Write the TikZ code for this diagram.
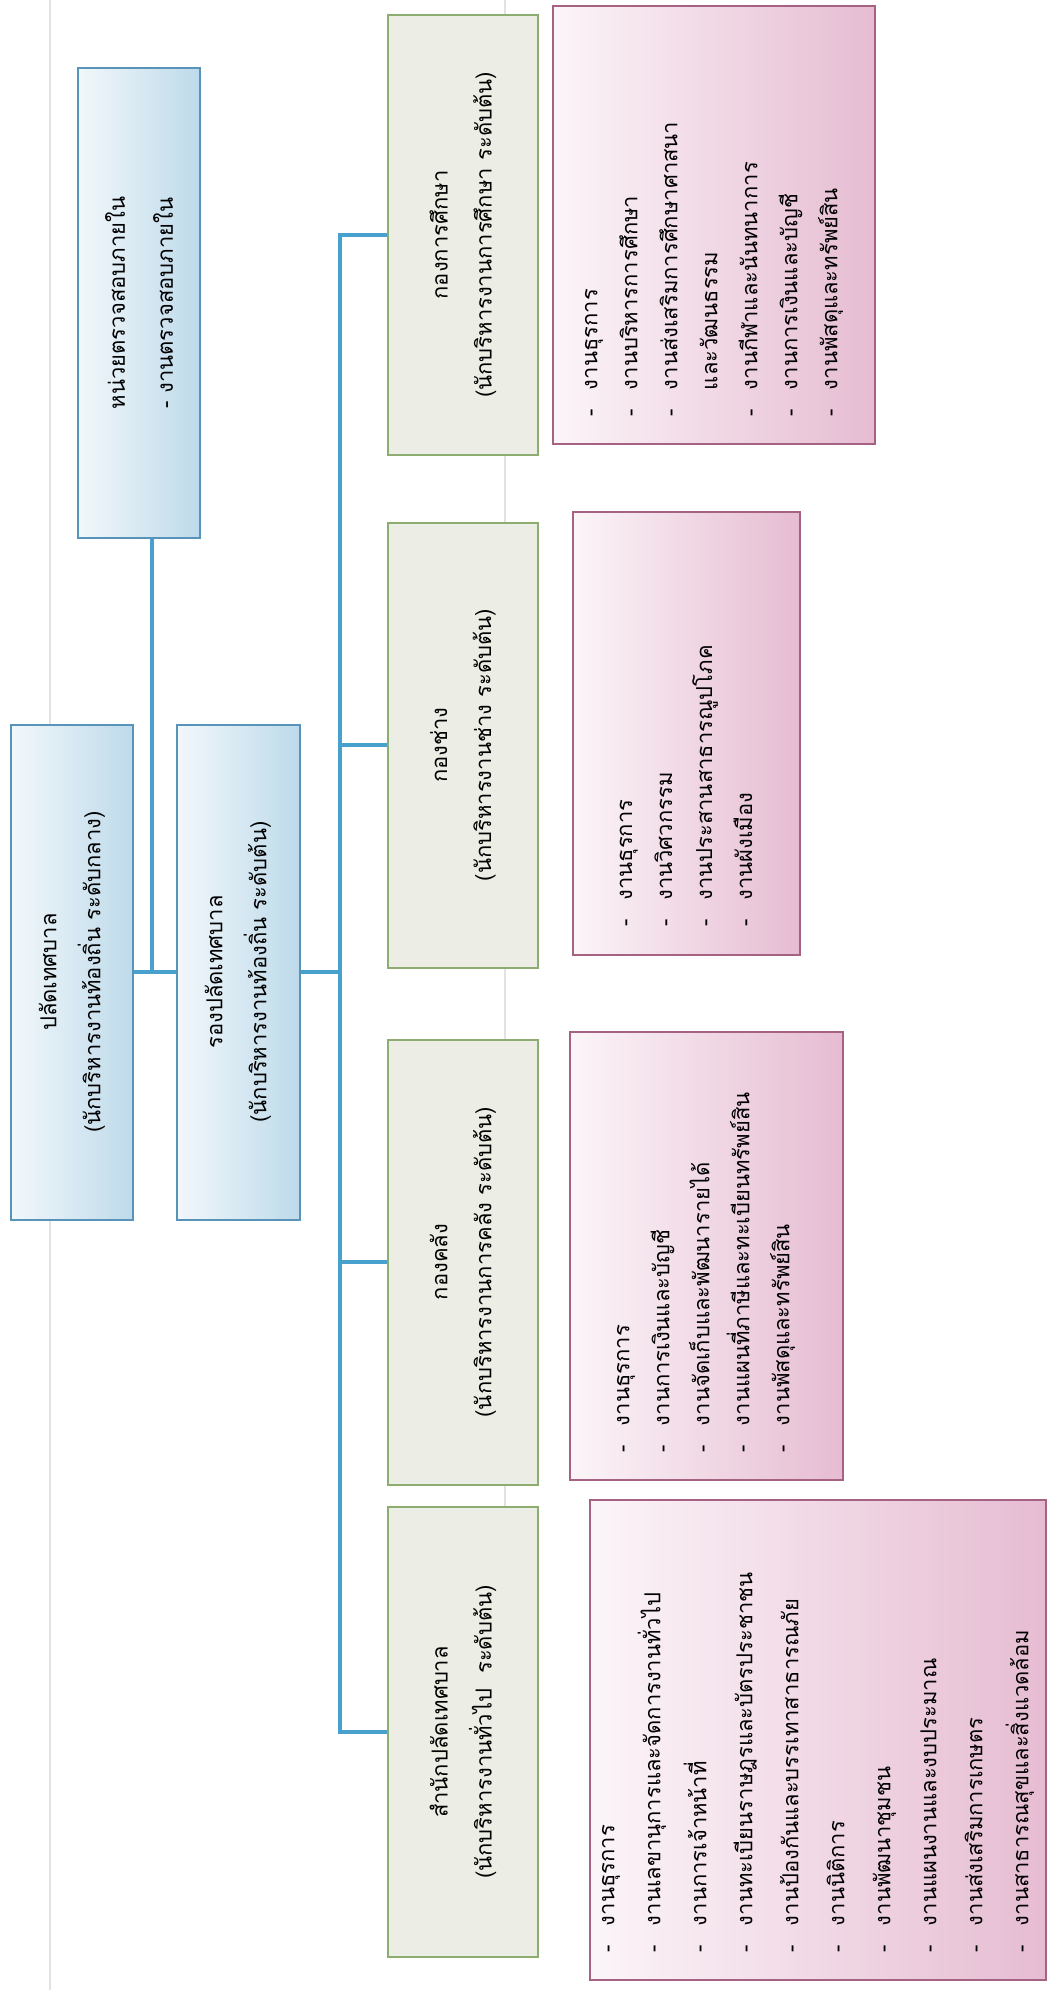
\documentclass[tikz,border=0pt]{standalone}
\usepackage{fontspec}
\newfontfamily\thaifont[Script=Thai]{Loma}
\usetikzlibrary{positioning,calc}

\definecolor{linkblue}{RGB}{72,160,205}
\definecolor{blueedge}{RGB}{88,148,185}
\definecolor{bluefill}{RGB}{190,218,234}
\definecolor{greenedge}{RGB}{140,172,112}
\definecolor{greenfill}{RGB}{236,238,229}
\definecolor{pinkedge}{RGB}{165,98,130}
\definecolor{pinkfill}{RGB}{230,188,210}
\definecolor{foldgray}{RGB}{226,226,226}

\newcommand\taskdash{\makebox[26pt][l]{-}}

\begin{document}
\begin{tikzpicture}[x=1pt, y=-1pt,
    every node/.style={rotate=90, inner sep=0pt, font=\thaifont\fontsize{22}{44}\selectfont},
    chief/.style={draw=blueedge, line width=2pt, left color=white!80!bluefill, right color=bluefill, align=center},
    division/.style={draw=greenedge, line width=2pt, fill=greenfill, align=center},
    tasks/.style={draw=pinkedge, line width=2pt, left color=white!85!pinkfill, right color=pinkfill,
        align=left, inner xsep=28pt, font=\thaifont\fontsize{22}{40}\selectfont},
    link/.style={draw=linkblue, line width=4pt}]
\useasboundingbox (0,0) rectangle (1063,1990);

% fold lines of the scanned page
\draw[foldgray, line width=1.5pt] (50,0) -- (50,1990);
\draw[foldgray, line width=1.5pt] (505,0) -- (505,1935);

% top of the chart
\node[chief, minimum width=495pt, minimum height=122pt] (clerk) at (72,972)
    {ปลัดเทศบาล\\(นักบริหารงานท้องถิ่น ระดับกลาง)};
\node[chief, minimum width=495pt, minimum height=123pt] (deputy) at (238,972)
    {รองปลัดเทศบาล\\(นักบริหารงานท้องถิ่น ระดับต้น)};
\node[chief, minimum width=470pt, minimum height=122pt, font=\thaifont\fontsize{22}{48}\selectfont] (audit) at (139,303)
    {หน่วยตรวจสอบภายใน\\- งานตรวจสอบภายใน};

% divisions
\node[division, minimum width=440pt, minimum height=150pt] (edu) at (463,235)
    {กองการศึกษา\\(นักบริหารงานการศึกษา ระดับต้น)};
\node[division, minimum width=445pt, minimum height=150pt] (works) at (463,745)
    {กองช่าง\\(นักบริหารงานช่าง ระดับต้น)};
\node[division, minimum width=445pt, minimum height=150pt] (finance) at (463,1262)
    {กองคลัง\\(นักบริหารงานการคลัง ระดับต้น)};
\node[division, minimum width=450pt, minimum height=150pt] (office) at (463,1732)
    {สำนักปลัดเทศบาล\\(นักบริหารงานทั่วไป~~ระดับต้น)};

% task lists
\node[tasks, text width=382pt, minimum height=322pt] (edutasks) at (714,225)
    {\taskdash งานธุรการ\\
     \taskdash งานบริหารการศึกษา\\
     \taskdash งานส่งเสริมการศึกษาศาสนา\\
     \hspace*{26pt}และวัฒนธรรม\\
     \taskdash งานกีฬาและนันทนาการ\\
     \taskdash งานการเงินและบัญชี\\
     \taskdash งานพัสดุและทรัพย์สิน};
\node[tasks, text width=387pt, minimum height=227pt] (workstasks) at (686,733)
    {\taskdash งานธุรการ\\
     \taskdash งานวิศวกรรม\\
     \taskdash งานประสานสาธารณูปโภค\\
     \taskdash งานผังเมือง};
\node[tasks, text width=392pt, minimum height=273pt] (fintasks) at (706,1256)
    {\taskdash งานธุรการ\\
     \taskdash งานการเงินและบัญชี\\
     \taskdash งานจัดเก็บและพัฒนารายได้\\
     \taskdash งานแผนที่ภาษีและทะเบียนทรัพย์สิน\\
     \taskdash งานพัสดุและทรัพย์สิน};
\node[tasks, text width=424pt, minimum height=456pt, font=\thaifont\fontsize{22}{46}\selectfont] (officetasks) at (818,1740)
    {\taskdash งานธุรการ\\
     \taskdash งานเลขานุการและจัดการงานทั่วไป\\
     \taskdash งานการเจ้าหน้าที่\\
     \taskdash งานทะเบียนราษฎรและบัตรประชาชน\\
     \taskdash งานป้องกันและบรรเทาสาธารณภัย\\
     \taskdash งานนิติการ\\
     \taskdash งานพัฒนาชุมชน\\
     \taskdash งานแผนงานและงบประมาณ\\
     \taskdash งานส่งเสริมการเกษตร\\
     \taskdash งานสาธารณสุขและสิ่งแวดล้อม};

% connectors
\coordinate (hub) at (152,972);
\coordinate (trunk) at (340,0);
\draw[link] (clerk.south) -- (deputy.north);
\draw[link] (hub) -- (hub |- audit.west);
\draw[link] (deputy.south) -- (deputy.south -| trunk);
\draw[link] (edu.north) -| (office.north -| trunk) -- (office.north);
\draw[link] (works.north -| trunk) -- (works.north);
\draw[link] (finance.north -| trunk) -- (finance.north);
\end{tikzpicture}
\end{document}
